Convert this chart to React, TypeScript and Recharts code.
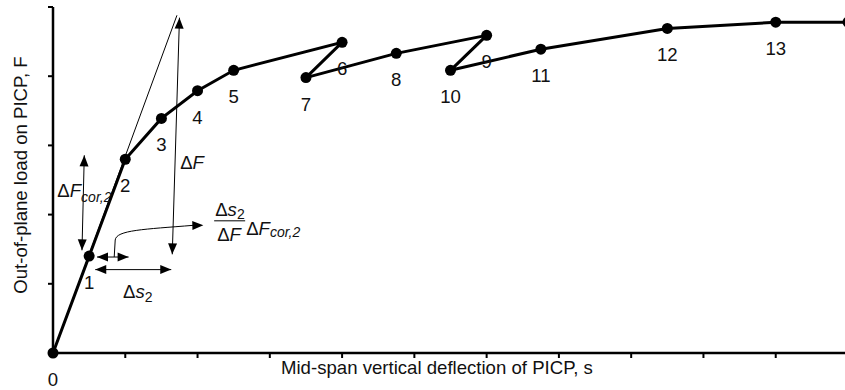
import { LineChart, Line, XAxis, YAxis, ReferenceLine, ReferenceDot, LabelList, Label } from 'recharts';

// load steps (s in tick units, F in tick units)
const pointS = [0, 0.5, 1, 1.5, 2, 2.5, 4, 3.5, 4.75, 6, 5.5, 6.75, 8.5, 10, 11];
const pointF = [0, 1.4, 2.8, 3.39, 3.79, 4.085, 4.49, 3.98, 4.33, 4.59, 4.085, 4.39, 4.69, 4.78, 4.78];
const pointNames = ['0', '1', '2', '3', '4', '5', '6', '7', '8', '9', '10', '11', '12', '13', ''];
const sTicks = [0, 1, 2, 3, 4, 5, 6, 7, 8, 9, 10, 11];
const fTicks = [0, 1, 2, 3, 4, 5];

// construction lines, same units as the data
const tangent = [{ x: 0, y: 0 }, { x: 1.715, y: 4.88 }];
const arrowDF = [{ x: 1.65, y: 1.426 }, { x: 1.75, y: 4.846 }];
const arrowDFcor = [{ x: 0.401, y: 1.484 }, { x: 0.433, y: 2.857 }];
const arrowDs = [{ x: 0.585, y: 1.205 }, { x: 1.636, y: 1.205 }];
const arrowSmall = [{ x: 0.609, y: 1.387 }, { x: 1.046, y: 1.387 }];
const arrowCurve = [{ x: 0.847, y: 1.387 }, { x: 2.08, y: 1.845 }];

const FONT = '"Liberation Sans", Arial, sans-serif';
const FS = 18.6;
const SUB = 14;

const points = pointS.map((s, i) => ({ s, F: pointF[i], name: pointNames[i] }));

function head(x: number, y: number, fx: number, fy: number) {
  const dx = x - fx;
  const dy = y - fy;
  const len = Math.hypot(dx, dy) || 1;
  const ux = dx / len;
  const uy = dy / len;
  const L = 11;
  const W = 4.5;
  const bx = x - ux * L;
  const by = y - uy * L;
  return (
    <polygon
      points={`${x},${y} ${bx - uy * W},${by + ux * W} ${bx + uy * W},${by - ux * W}`}
      fill="#000"
    />
  );
}

const plainLine = (p: any) => <line x1={p.x1} y1={p.y1} x2={p.x2} y2={p.y2} stroke="#000" strokeWidth={1} />;

const doubleArrow = (p: any) => (
  <g>
    <line x1={p.x1} y1={p.y1} x2={p.x2} y2={p.y2} stroke="#000" strokeWidth={1} />
    {head(p.x1, p.y1, p.x2, p.y2)}
    {head(p.x2, p.y2, p.x1, p.y1)}
  </g>
);

const curvedArrow = (p: any) => {
  const { x1, y1, x2, y2 } = p;
  const d = `M${x1},${y1} L${x1 + 1},${y1 - 17} C${x1 + 2},${y1 - 27} ${x1 + 30},${y2 + 4} ${x2 - 10},${y2}`;
  return (
    <g>
      <path d={d} fill="none" stroke="#000" strokeWidth={1} />
      {head(x2, y2, x2 - 20, y2 + 0.5)}
    </g>
  );
};

const pointLabel = (p: any) => {
  if (!p.value) return null;
  return (
    <text x={p.x} y={p.y + 33} textAnchor="middle" fontFamily={FONT} fontSize={FS} fill="#111">
      {p.value}
    </text>
  );
};

const textDF = (p: any) => (
  <text x={p.cx} y={p.cy} fontFamily={FONT} fontSize={FS} fill="#111">
    Δ<tspan fontStyle="italic">F</tspan>
  </text>
);

const textDFcor = (p: any) => (
  <text x={p.cx} y={p.cy} fontFamily={FONT} fontSize={FS} fill="#111">
    Δ<tspan fontStyle="italic">F</tspan>
    <tspan fontStyle="italic" fontSize={SUB} dy={5}>cor,2</tspan>
  </text>
);

const textDs = (p: any) => (
  <text x={p.cx} y={p.cy} fontFamily={FONT} fontSize={FS} fill="#111">
    Δ<tspan fontStyle="italic">s</tspan>
    <tspan fontSize={SUB} dy={4}>2</tspan>
  </text>
);

const textFraction = (p: any) => {
  const { cx, cy } = p;
  return (
    <g fontFamily={FONT} fill="#111">
      <text x={cx + 1} y={cy - 5} fontSize={FS}>
        Δ<tspan fontStyle="italic">s</tspan>
        <tspan fontSize={SUB} dy={3}>2</tspan>
      </text>
      <line x1={cx} y1={cy} x2={cx + 31} y2={cy} stroke="#000" strokeWidth={1} />
      <text x={cx + 3} y={cy + 20} fontSize={FS}>
        Δ<tspan fontStyle="italic">F</tspan>
      </text>
      <text x={cx + 32} y={cy + 14} fontSize={FS}>
        Δ<tspan fontStyle="italic">F</tspan>
        <tspan fontStyle="italic" fontSize={SUB} dy={2}>cor,2</tspan>
      </text>
    </g>
  );
};

const xTitle = (p: any) => {
  const vb = p.viewBox;
  return (
    <text x={vb.x + 228} y={vb.y + 21} fontFamily={FONT} fontSize={FS} fill="#111">
      Mid-span vertical deflection of PICP, s
    </text>
  );
};

const yTitle = (p: any) => {
  const vb = p.viewBox;
  const x = 27;
  const y = vb.y + vb.height / 2 - 5;
  return (
    <text x={x} y={y} transform={`rotate(-90, ${x}, ${y})`} textAnchor="middle" fontFamily={FONT} fontSize={FS} fill="#111">
      Out-of-plane load on PICP, F
    </text>
  );
};

export default function App() {
  return (
    <div style={{ position: 'absolute', left: 0, top: 0, width: 845, height: 390, overflow: 'hidden', background: '#fff' }}>
      <LineChart width={848} height={390} data={points} margin={{ top: 7, right: 0, bottom: 0, left: 0 }}>
        <XAxis
          dataKey="s"
          type="number"
          domain={[0, 11]}
          ticks={sTicks}
          tickFormatter={() => ''}
          axisLine={{ stroke: '#000', strokeWidth: 2.5 }}
          tickLine={{ stroke: '#000', strokeWidth: 2 }}
          tickSize={5}
          height={37}
        >
          <Label content={xTitle} />
        </XAxis>
        <YAxis
          type="number"
          domain={[0, 5]}
          ticks={fTicks}
          tickFormatter={() => ''}
          axisLine={{ stroke: '#000', strokeWidth: 2.5 }}
          tickLine={{ stroke: '#000', strokeWidth: 2 }}
          tickSize={5}
          width={53}
        >
          <Label content={yTitle} />
        </YAxis>
        <ReferenceLine segment={tangent} shape={plainLine} />
        <ReferenceLine segment={arrowDF} shape={doubleArrow} />
        <ReferenceLine segment={arrowDFcor} shape={doubleArrow} />
        <ReferenceLine segment={arrowDs} shape={doubleArrow} />
        <ReferenceLine segment={arrowSmall} shape={doubleArrow} />
        <ReferenceLine segment={arrowCurve} shape={curvedArrow} />
        <ReferenceDot x={1.76} y={2.66} shape={textDF} />
        <ReferenceDot x={0.06} y={2.25} shape={textDFcor} />
        <ReferenceDot x={0.97} y={0.8} shape={textDs} />
        <ReferenceDot x={2.23} y={1.91} shape={textFraction} />
        <Line
          dataKey="F"
          stroke="#000"
          strokeWidth={3}
          dot={{ r: 5.5, fill: '#000', stroke: '#000', strokeWidth: 0 }}
          isAnimationActive={false}
        >
          <LabelList dataKey="name" content={pointLabel} />
        </Line>
      </LineChart>
    </div>
  );
}
